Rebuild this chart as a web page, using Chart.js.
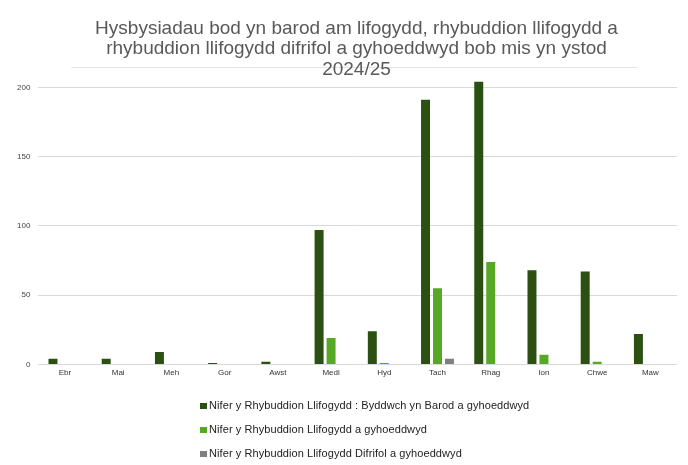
<!DOCTYPE html>
<html>
<head>
<meta charset="utf-8">
<style>
body{margin:0;background:#fff;font-family:"Liberation Sans",Arial,sans-serif;}
#wrap{position:relative;width:688px;height:465px;}
#legend{position:absolute;left:200px;top:396px;margin:0;padding:0;list-style:none;}
#legend li{height:24px;line-height:18px;font-size:11px;letter-spacing:0.08px;color:#222;white-space:nowrap;}
#legend span{display:inline-block;width:7px;height:6px;margin-right:2px;vertical-align:0px;}
</style>
</head>
<body>
<div id="wrap">
<canvas id="chart"></canvas>
<ul id="legend"></ul>
</div>
<script src="https://cdn.jsdelivr.net/npm/chart.js@4.4.1/dist/chart.umd.min.js"></script>
<script>
var months = ["Ebr","Mai","Meh","Gor","Awst","Medi","Hyd","Tach","Rhag","Ion","Chwe","Maw"];
var byddwchYnBarod = [4,4,9,1,2,97,24,191,204,68,67,22];
var rhybuddion = [0,0,0,0,0,19,1,55,74,7,2,0];
var difrifol = [0,0,0,0,0,0,0,4,0,0,0,0];
var seriesNames = [
	"Nifer y Rhybuddion Llifogydd : Byddwch yn Barod a gyhoeddwyd",
	"Nifer y Rhybuddion Llifogydd a gyhoeddwyd",
	"Nifer y Rhybuddion Llifogydd Difrifol a gyhoeddwyd"
];
var titleLines = [
	"Hysbysiadau bod yn barod am lifogydd, rhybuddion llifogydd a",
	"rhybuddion llifogydd difrifol a gyhoeddwyd bob mis yn ystod",
	"2024/25"
];
var colors = ["#2b5012","#57a824","#7f7f7f"];

// thin rule under the title + title sits a bit right of centre, as in the sheet chart
var titleRule = {
	id: "titleRule",
	afterLayout: function(chart){
		chart.titleBlock.left += 27;
	},
	beforeDraw: function(chart){
		var ctx = chart.ctx, a = chart.chartArea;
		ctx.save();
		ctx.strokeStyle = "#e3e3e3";
		ctx.lineWidth = 1;
		ctx.beginPath();
		ctx.moveTo(a.left + 33, 67.5);
		ctx.lineTo(a.right - 40, 67.5);
		ctx.stroke();
		ctx.restore();
	}
};

var data = {
	labels: months,
	datasets: [byddwchYnBarod, rhybuddion, difrifol].map(function(v, i){
		return {
			label: seriesNames[i],
			data: v,
			backgroundColor: colors[i],
			categoryPercentage: 0.675,
			barPercentage: 0.75
		};
	})
};

var ctx = document.getElementById("chart").getContext("2d");
var chart = new Chart(ctx, {
	type: "bar",
	data: data,
	plugins: [titleRule],
	options: {
		responsive: true,
		maintainAspectRatio: false,
		animation: false,
		layout: { padding: { left: 9, right: 11, top: 0, bottom: 83 } },
		plugins: {
			legend: { display: false },
			tooltip: { enabled: false },
			title: {
				display: true,
				text: titleLines,
				color: "#595959",
				font: { family: "'Liberation Sans', Arial, sans-serif", size: 19, weight: "normal", lineHeight: 1.095 },
				padding: { top: 18, bottom: 0 }
			}
		},
		scales: {
			x: {
				grid: { display: false, drawTicks: false },
				border: { display: false },
				ticks: { color: "#333", padding: 4, font: { family: "'Liberation Sans', Arial, sans-serif", size: 8 } }
			},
			y: {
				min: 0,
				max: 205,
				grid: { color: "#d9d9d9", drawTicks: false },
				border: { display: false },
				ticks: { stepSize: 50, includeBounds: false, color: "#444", padding: 8, font: { family: "'Liberation Sans', Arial, sans-serif", size: 8 } }
			}
		}
	}
});

var items = Chart.defaults.plugins.legend.labels.generateLabels(chart);
var ul = document.getElementById("legend");
items.forEach(function(it){
	var li = document.createElement("li");
	var box = document.createElement("span");
	box.style.background = it.fillStyle;
	li.appendChild(box);
	li.appendChild(document.createTextNode(it.text));
	ul.appendChild(li);
});
</script>
</body>
</html>
